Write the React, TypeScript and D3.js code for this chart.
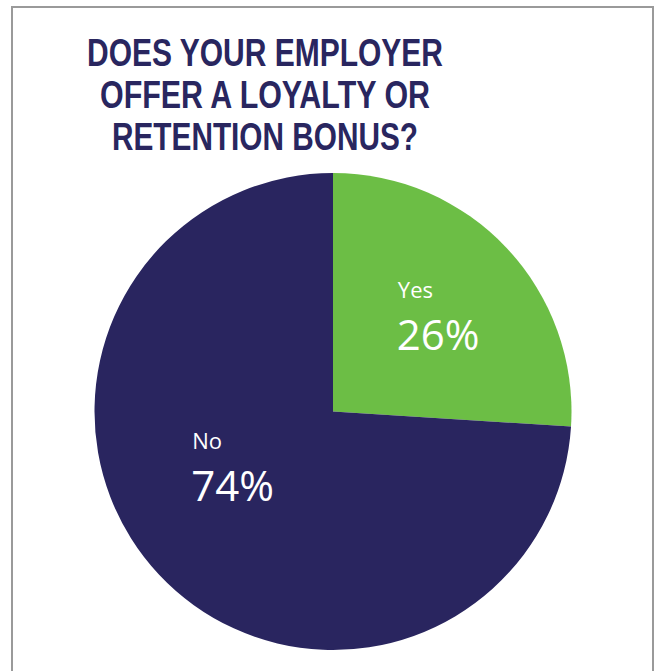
import React from "react";
import * as d3 from "d3";

const title = ["DOES YOUR EMPLOYER", "OFFER A LOYALTY OR", "RETENTION BONUS?"];
const categories = ["Yes", "No"];
const values = [26, 74];
const colors = ["#6cbe45", "#29255f"];

const W = 657;
const H = 671;
const cx = 333;
const cy = 411.5;
const R = 238.5;

export default function App() {
  const pie = d3.pie<number>().sort(null).value((d) => d);
  const arcs = pie(values);
  const arcGen = d3.arc<d3.PieArcDatum<number>>().innerRadius(0).outerRadius(R);
  const labelArc = d3.arc<d3.PieArcDatum<number>>().innerRadius(0).outerRadius(R * 1.16);
  const labelOffsets = [
    { dx: -37, dy: 7 },
    { dx: -41, dy: -31 },
  ];
  return (
    <svg
      width={W}
      height={H}
      style={{ position: "absolute", left: 0, top: 0, background: "#fff" }}
    >
      <rect x={12} y={7} width={641} height={700} fill="#fff" stroke="#9a9a9a" strokeWidth={2} />
      {title.map((t, i) => (
        <text
          key={i}
          x={265}
          y={66 + i * 42}
          textAnchor="middle"
          fill="#29265f"
          fontFamily="'Liberation Sans', Arial, sans-serif"
          fontWeight="bold"
          fontSize={38}
          textLength={[356, 330, 306][i]}
          lengthAdjust="spacingAndGlyphs"
        >
          {t}
        </text>
      ))}
      <g transform={`translate(${cx},${cy})`}>
        {arcs.map((a, i) => (
          <path key={i} d={arcGen(a) || ""} fill={colors[i]} />
        ))}
        {arcs.map((a, i) => {
          const [x, y] = labelArc.centroid(a);
          const lx = x + labelOffsets[i].dx;
          const ly = y + labelOffsets[i].dy;
          return (
            <g key={"l" + i} fill="#fff" fontFamily="'Open Sans', 'Noto Sans', sans-serif">
              <text x={lx + 1} y={ly - 26} fontSize={22}>
                {categories[i]}
              </text>
              <text x={lx} y={ly + 26} fontSize={42}>
                {values[i]}%
              </text>
            </g>
          );
        })}
      </g>
    </svg>
  );
}
